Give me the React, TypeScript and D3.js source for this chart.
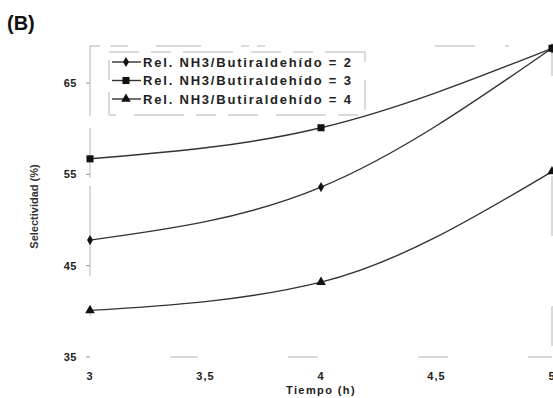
import { useRef, useEffect } from 'react'
import * as d3 from 'd3'

const tiempos = [3, 4, 5]
const rel2 = [47.8, 53.6, 68.8]
const rel3 = [56.7, 60.1, 68.8]
const rel4 = [40.1, 43.2, 55.3]
const seriesNames = [
  'Rel. NH3/Butiraldehído = 2',
  'Rel. NH3/Butiraldehído = 3',
  'Rel. NH3/Butiraldehído = 4',
]
const xTicks = [3, 3.5, 4, 4.5, 5]
const yTicks = [35, 45, 55, 65]

const FONT = 'Liberation Sans, Arial, sans-serif'

export default function App() {
  const svgRef = useRef<SVGSVGElement>(null)

  useEffect(() => {
    const el = svgRef.current
    if (!el) return
    const W = 553, H = 398
    const pad = { l: 90, r: 1, t: 46, b: 41 }
    d3.select(el).selectAll('*').remove()
    const svg = d3.select(el).attr('width', W).attr('height', H)

    const x = d3.scaleLinear().domain([3, 5]).range([pad.l, W - pad.r])
    const y = d3.scaleLinear().domain([35, 65]).range([H - pad.b, 83])

    // faint, broken frame like a scanned figure
    const frame = svg.append('g').attr('stroke', '#b5b5b5').attr('fill', 'none').attr('stroke-width', 1)
    frame.append('line').attr('x1', pad.l).attr('x2', W - pad.r).attr('y1', pad.t).attr('y2', pad.t)
      .attr('stroke-dasharray', '10 10 18 28 45 40 8 8 8 170 40 30 4 60')
    frame.append('line').attr('x1', pad.l).attr('x2', W - pad.r).attr('y1', y(35)).attr('y2', y(35))
      .attr('stroke-dasharray', '0 80 28 90 30 100 30 80 10')
    frame.append('line').attr('x1', pad.l).attr('x2', pad.l).attr('y1', pad.t).attr('y2', y(35))
      .attr('stroke-dasharray', '70 12 50 8 90 30 10 50 30')
    frame.append('line').attr('x1', W - pad.r).attr('x2', W - pad.r).attr('y1', pad.t).attr('y2', y(35))
      .attr('stroke-dasharray', '30 100 60 70 40 30')

    svg.selectAll('.ytick')
      .data(yTicks)
      .join('line')
      .attr('x1', pad.l - 4).attr('x2', pad.l)
      .attr('y1', d => y(d)).attr('y2', d => y(d))
      .attr('stroke', '#999')

    svg.selectAll('.ylab')
      .data(yTicks)
      .join('text')
      .attr('x', 77).attr('y', d => y(d) + 4)
      .attr('text-anchor', 'end').attr('font-size', 11).attr('font-weight', 'bold')
      .attr('font-family', FONT).attr('fill', '#222').attr('letter-spacing', 0.5)
      .text(d => d)

    svg.selectAll('.xlab')
      .data(xTicks)
      .join('text')
      .attr('x', d => x(d)).attr('y', 380)
      .attr('text-anchor', 'middle').attr('font-size', 11).attr('font-weight', 'bold')
      .attr('font-family', FONT).attr('fill', '#222').attr('letter-spacing', 1)
      .text(d => String(d).replace('.', ','))

    svg.append('text')
      .attr('x', x(4)).attr('y', 394)
      .attr('text-anchor', 'middle').attr('font-size', 11).attr('font-weight', 'bold')
      .attr('font-family', FONT).attr('fill', '#222').attr('letter-spacing', 1.4)
      .text('Tiempo (h)')

    svg.append('text')
      .attr('transform', `translate(38,${(pad.t + y(35)) / 2 + 5}) rotate(-90)`)
      .attr('text-anchor', 'middle').attr('font-size', 11).attr('font-weight', 'bold')
      .attr('font-family', FONT).attr('fill', '#333')
      .text('Selectividad (%)')

    svg.append('text')
      .attr('x', 7).attr('y', 30)
      .attr('font-size', 20).attr('font-weight', 'bold').attr('font-family', FONT).attr('fill', '#111')
      .text('(B)')

    const line = d3.line<number>()
      .x((_, i) => x(tiempos[i]))
      .y(d => y(d))
      .curve(d3.curveMonotoneX)

    const series = [rel2, rel3, rel4]
    const symbols = [d3.symbolDiamond, d3.symbolSquare, d3.symbolTriangle]
    const sizes = [30, 50, 40]

    series.forEach((s, k) => {
      svg.append('path').datum(s).attr('d', line)
        .attr('fill', 'none').attr('stroke', '#333').attr('stroke-width', 1.4)
      svg.selectAll(`.pt${k}`)
        .data(s)
        .join('path')
        .attr('transform', (d, i) => `translate(${x(tiempos[i])},${y(d)})`)
        .attr('d', d3.symbol().type(symbols[k]).size(sizes[k])())
        .attr('fill', '#111')
    })

    // legend
    const lg = svg.append('g')
    lg.append('rect').attr('x', 109).attr('y', 52).attr('width', 256).attr('height', 63)
      .attr('fill', '#fff').attr('stroke', '#b5b5b5').attr('stroke-dasharray', '30 12 20 12 50 18')
    seriesNames.forEach((name, k) => {
      const ly = 62 + k * 18.5
      lg.append('line').attr('x1', 112).attr('x2', 141).attr('y1', ly).attr('y2', ly)
        .attr('stroke', '#333').attr('stroke-width', 1.4)
      lg.append('path').attr('transform', `translate(126,${ly})`)
        .attr('d', d3.symbol().type(symbols[k]).size(sizes[k])()).attr('fill', '#111')
      lg.append('text').attr('x', 143).attr('y', ly + 4.5)
        .attr('font-size', 13).attr('font-weight', 'bold').attr('letter-spacing', 1.8)
        .attr('font-family', FONT).attr('fill', '#222')
        .text(name)
    })
  }, [])

  return (
    <div style={{ position: 'fixed', left: 0, top: 0, background: '#fff' }}>
      <svg ref={svgRef} style={{ display: 'block' }} />
    </div>
  )
}
